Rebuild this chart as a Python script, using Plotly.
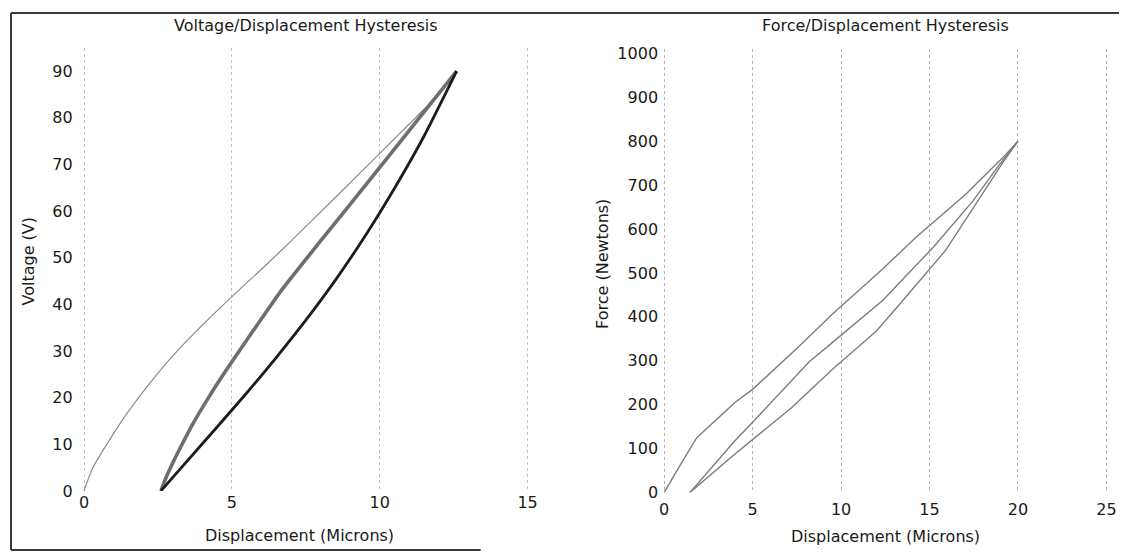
import plotly.graph_objects as go

# ---------------- data ----------------
# Left panel: Voltage vs Displacement
volt_initial_x = [0, 0.3, 0.87, 1.43, 2.0, 2.57, 3.14, 3.70, 4.27, 4.84, 5.5, 6.2, 7.1, 8.24, 9.37, 10.5, 11.64, 12.6]
volt_initial_y = [0, 5, 11.0, 16.4, 21.3, 25.8, 29.9, 33.6, 37.2, 40.7, 44.6, 48.7, 54.2, 61.3, 68.4, 75.5, 82.8, 90]

volt_upper_x = [2.6, 2.75, 3.0, 3.3, 3.7, 4.2, 4.8, 5.4, 6.0, 6.7, 8.0, 9.5, 11.0, 12.6]
volt_upper_y = [0, 2.5, 6.0, 9.8, 14.6, 19.9, 25.8, 31.4, 36.9, 43.2, 53.6, 65.4, 77.3, 90]

volt_lower_x = [2.6, 3.5, 4.5, 5.5, 6.5, 7.5, 8.5, 9.5, 10.5, 11.5, 12.6]
volt_lower_y = [0, 6.5, 13.7, 21.0, 28.6, 36.6, 45.2, 54.6, 64.9, 76.1, 90]

# Right panel: Force vs Displacement
force_upper_x = [0, 0.6, 1.84, 4.0, 5.0, 7.6, 9.5, 12.35, 14.24, 17.08, 19.16, 20]
force_upper_y = [0, 42, 125, 205, 235, 332, 406, 509, 581, 680, 763, 800]

force_middle_x = [1.45, 2.5, 4.0, 5.0, 6.3, 8.2, 9.4, 12.35, 15.2, 17.46, 18.98, 20]
force_middle_y = [0, 49, 118, 160, 216, 298, 338, 437, 558, 664, 748, 800]

force_lower_x = [1.45, 4.0, 7.2, 9.5, 12.0, 13.3, 15.9, 17.46, 19.16, 20]
force_lower_y = [0, 88, 193, 280, 368, 428, 551, 648, 752, 800]

volt_xticks = [0, 5, 10, 15]
volt_yticks = [0, 10, 20, 30, 40, 50, 60, 70, 80, 90]
force_xticks = [0, 5, 10, 15, 20, 25]
force_yticks = [0, 100, 200, 300, 400, 500, 600, 700, 800, 900, 1000]

# ---------------- figure ----------------
W, H = 1127, 552

# calibration: reference-image pixel -> figure pixel (page is scaled into the shot)
def FX(p):
    return (p - 12.3) / 0.986
def FY(p):
    return (p - 12.5) / 0.972
def PX(p):
    return FX(p) / W
def PY(p):
    return 1 - FY(p) / H

def padded_domain(x0_ref, x1_ref, lo, hi, pad):
    # keep value lo at x0_ref and hi at x1_ref while extending range by pad units
    a, b = FX(x0_ref), FX(x1_ref)
    per = (b - a) / (hi - lo)
    return [(a - pad * per) / W, (b + pad * per) / W]

FONT = "DejaVu Sans"
TXT = "#1a1a1a"

fig = go.Figure()

fig.add_trace(go.Scatter(x=volt_initial_x, y=volt_initial_y, mode="lines", line_shape="spline",
                         line=dict(color="#8c8c8c", width=1.2, smoothing=0.6), xaxis="x", yaxis="y"))
fig.add_trace(go.Scatter(x=volt_upper_x, y=volt_upper_y, mode="lines", line_shape="spline",
                         line=dict(color="#6e6e6e", width=3.6, smoothing=0.6), xaxis="x", yaxis="y"))
fig.add_trace(go.Scatter(x=volt_lower_x, y=volt_lower_y, mode="lines", line_shape="spline",
                         line=dict(color="#1c1c1c", width=2.8, smoothing=0.6), xaxis="x", yaxis="y"))

for xs, ys in [(force_upper_x, force_upper_y), (force_middle_x, force_middle_y),
               (force_lower_x, force_lower_y)]:
    fig.add_trace(go.Scatter(x=xs, y=ys, mode="lines",
                             line=dict(color="#7d7d7d", width=1.4), xaxis="x2", yaxis="y2"))

axis_common = dict(showline=False, zeroline=False, ticks="",
                   tickfont=dict(family=FONT, size=16, color=TXT))

XPAD1, XPAD2 = 0.08, 0.12

fig.update_layout(
    width=W, height=H,
    margin=dict(l=0, r=0, t=0, b=0),
    paper_bgcolor="white", plot_bgcolor="white",
    showlegend=False,
    font=dict(family=FONT, color=TXT),
    xaxis=dict(domain=padded_domain(85, 526.7, 0, 15, XPAD1), range=[-XPAD1, 15 + XPAD1],
               tickvals=volt_xticks,
               showgrid=True, gridcolor="#c4c4c4", griddash="dot", gridwidth=1,
               anchor="y", ticklabelstandoff=0, **axis_common),
    yaxis=dict(domain=[PY(490), PY(47.3)], range=[0, 95], tickvals=volt_yticks,
               showgrid=False, anchor="x", ticklabelstandoff=8, **axis_common),
    xaxis2=dict(domain=padded_domain(662.7, 1103, 0, 25, XPAD2), range=[-XPAD2, 25 + XPAD2],
                tickvals=force_xticks,
                showgrid=True, gridcolor="#b4b4b4", griddash="dot", gridwidth=1,
                anchor="y2", ticklabelstandoff=5, **axis_common),
    yaxis2=dict(domain=[PY(491.7), PY(48.3)], range=[0, 1010], tickvals=force_yticks,
                showgrid=False, anchor="x2", ticklabelstandoff=3, **axis_common),
)

ann = [
    dict(text="Voltage/Displacement Hysteresis", x=PX(306), y=PY(25), angle=0),
    dict(text="Force/Displacement Hysteresis", x=PX(883), y=PY(25), angle=0),
    dict(text="Displacement (Microns)", x=PX(300), y=PY(535), angle=0),
    dict(text="Displacement (Microns)", x=PX(883), y=PY(536), angle=0),
    dict(text="Voltage (V)", x=PX(30), y=PY(260), angle=-90),
    dict(text="Force (Newtons)", x=PX(601), y=PY(263), angle=-90),
]
for a in ann:
    fig.add_annotation(text=a["text"], x=a["x"], y=a["y"], xref="paper", yref="paper",
                       xanchor="center", yanchor="middle", showarrow=False,
                       textangle=a["angle"], font=dict(family=FONT, size=16, color=TXT))

# scanned frame around the left panel / top edge
frame = [
    (0, 1, 1, 1),
    (0, 1, 0, 0),
    (0, 0, PX(480), 0),
]
for x0, y0, x1, y1 in frame:
    fig.add_shape(type="line", xref="paper", yref="paper", x0=x0, y0=y0, x1=x1, y1=y1,
                  line=dict(color="#3a3a3a", width=2))

fig.write_html("out.html")
